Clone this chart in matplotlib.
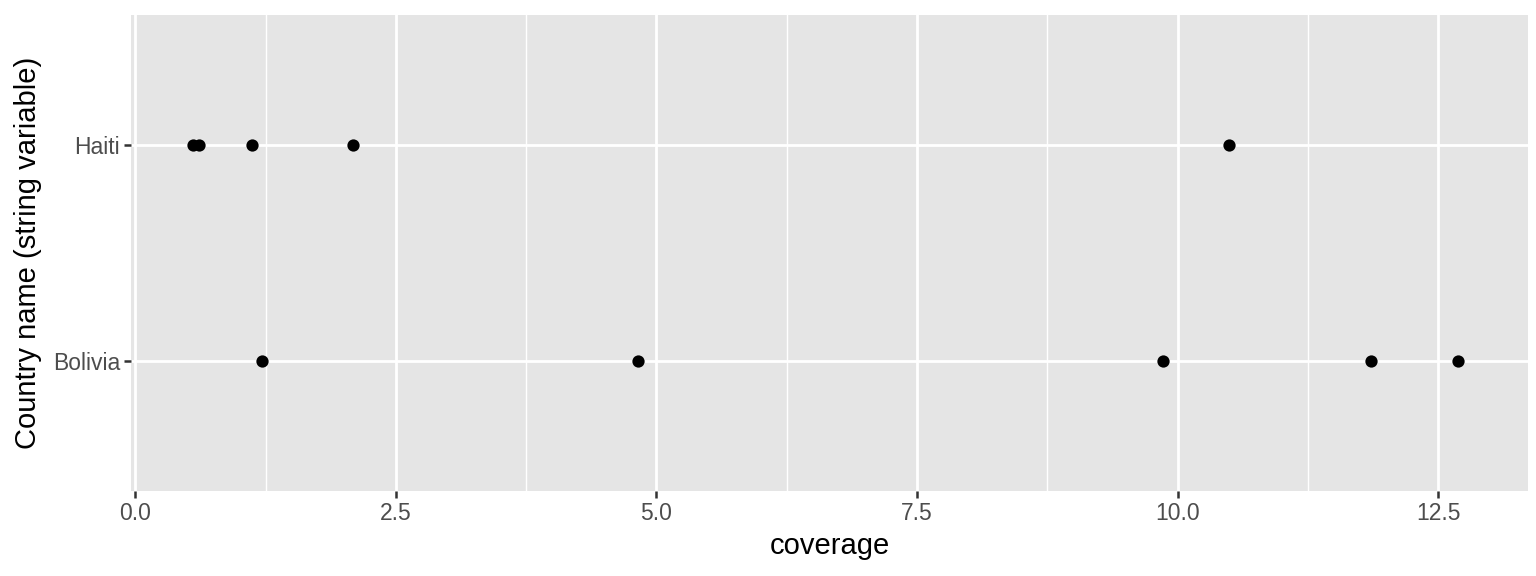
import matplotlib
matplotlib.use("Agg")
import matplotlib.pyplot as plt
import numpy as np

plt.rcParams['font.family'] = ['Liberation Sans', 'DejaVu Sans']

countries = ['Bolivia', 'Haiti']
haiti_cov = [0.556, 0.614, 1.122, 2.091, 10.495]
bolivia_cov = [1.218, 4.825, 9.862, 11.857, 12.692]

fig = plt.figure(figsize=(15.36, 5.76), dpi=100)
ax = fig.add_axes([0.0853, 0.1476, 0.9095, 0.8264])
ax.set_facecolor('#e5e5e5')

ax.set_xlim(-0.04, 13.36)
ax.set_ylim(0.4, 2.6)

ax.set_xticks(np.arange(0, 12.6, 2.5))
ax.set_xticklabels(['0.0', '2.5', '5.0', '7.5', '10.0', '12.5'])
ax.set_xticks(np.arange(1.25, 13.5, 2.5), minor=True)
ax.set_yticks([1, 2])
ax.set_yticklabels(countries)

ax.grid(which='major', color='white', linewidth=2.0)
ax.grid(which='minor', axis='x', color='white', linewidth=1.0)
ax.set_axisbelow(True)
for s in ax.spines.values():
    s.set_visible(False)

ax.tick_params(which='major', length=5, width=1.8, color='#333333',
               labelsize=16.5, labelcolor='#4d4d4d', pad=3)
ax.tick_params(which='minor', length=0)

ax.scatter(haiti_cov, [2] * len(haiti_cov), s=78, color='black', zorder=3, linewidths=0)
ax.scatter(bolivia_cov, [1] * len(bolivia_cov), s=78, color='black', zorder=3, linewidths=0)

ax.set_xlabel('coverage', fontsize=21, labelpad=5)
ax.set_ylabel('Country name (string variable)', fontsize=21, labelpad=8)

fig.savefig('out.png', dpi=100)
